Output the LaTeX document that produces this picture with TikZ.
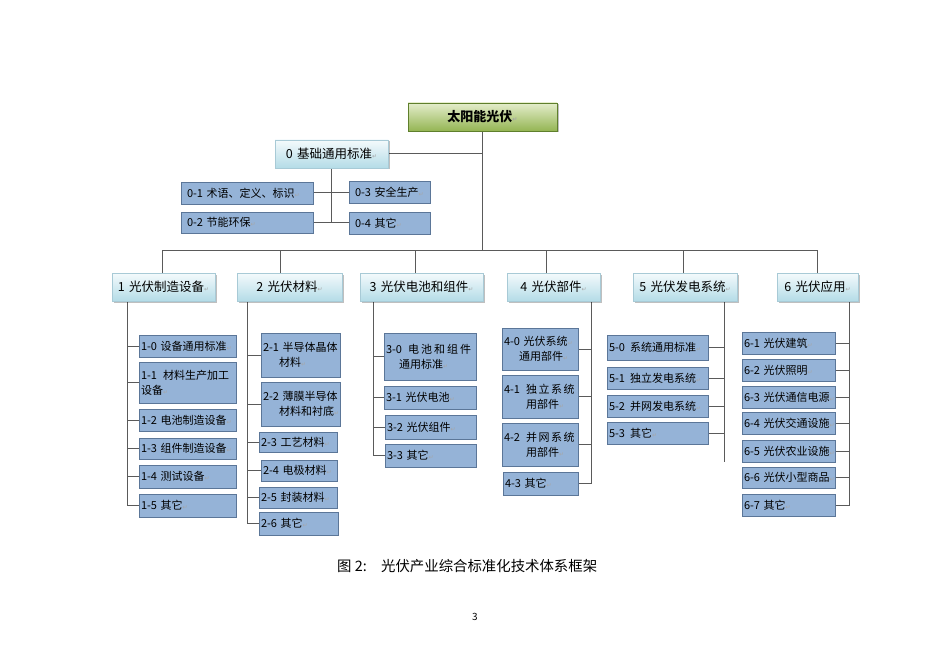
\documentclass[tikz,border=0pt]{standalone}
\usepackage{fontspec}
\setmainfont{Noto Sans CJK SC}
\newfontfamily\arwfont{DejaVu Sans}
\usetikzlibrary{shadows,backgrounds}
\definecolor{linegray}{HTML}{5A5A5A}
\definecolor{childfill}{HTML}{95B3D7}
\definecolor{childdraw}{HTML}{5B7698}
\definecolor{headtop}{HTML}{F4FAFC}
\definecolor{headbot}{HTML}{B4DCE7}
\definecolor{headdraw}{HTML}{A8CAD6}
\definecolor{titletop}{HTML}{E4EDCB}
\definecolor{titlebot}{HTML}{94B553}
\definecolor{titledraw}{HTML}{5F7F2C}
\newcommand\rt{{\arwfont\fontsize{6}{6}\selectfont\color{black!35}↵}}
\newcommand\cboxm[7]{%
  \pgfmathsetmacro\mybw{#5-#3}%
  \pgfmathsetmacro\mybh{#6-#4}%
  \pgfmathsetmacro\mycx{(#3+#5)/2}%
  \pgfmathsetmacro\mycy{(#4+#6)/2}%
  \pgfmathsetmacro\mytw{#5-#3-4}%
  \node[#1, minimum width=\mybw pt, minimum height=\mybh pt, text width=\mytw pt] (#2) at (\mycx,\mycy) {#7};}
\newcommand\cbox[7]{\cboxm{#1}{#2}{#3}{#4}{#5}{#6}{\mbox{#7}}}
\tikzset{
  childbox/.style={draw=childdraw, fill=childfill, line width=0.9pt, inner xsep=2pt, inner ysep=0pt,
    align=left, font=\fontsize{11}{15}\selectfont},
  zerobox/.style={childbox, execute at begin node={\hspace*{4pt}}},
  headbox/.style={draw=headdraw, top color=headtop, bottom color=headbot, line width=0.6pt,
    inner xsep=2pt, inner ysep=0pt, align=center, font=\fontsize{12.5}{14}\selectfont,
    drop shadow={shadow xshift=1.5pt, shadow yshift=-1.5pt, opacity=0.25, fill=black}},
  titlebox/.style={draw=titledraw, top color=titletop, bottom color=titlebot, line width=0.8pt,
    inner xsep=2pt, inner ysep=0pt, align=center, font=\fontsize{13}{15}\selectfont\bfseries,
    drop shadow={shadow xshift=1.5pt, shadow yshift=-1.5pt, opacity=0.25, fill=black}},
  conn/.style={draw=linegray, line width=1pt, line cap=rect, line join=miter}
}
\begin{document}
\begin{tikzpicture}[x=1pt,y=-1pt]
\useasboundingbox (0,0) rectangle (950,671);
% top and 0 group
\cbox{titlebox}{top}{408}{103}{557}{131}{太阳能光伏\rt}
\cbox{headbox}{h0}{275}{140}{388}{168}{0~基础通用标准\rt}
\cbox{zerobox}{c01}{181}{182}{313}{204}{0-1~术语、定义、标识\rt}
\cbox{zerobox}{c02}{181}{212}{313}{233}{0-2~节能环保\rt}
\cbox{zerobox}{c03}{349}{181}{430}{203}{0-3~安全生产\rt}
\cbox{zerobox}{c04}{349}{212}{430}{234}{0-4~其它\rt}
% headers
\cbox{headbox}{h1}{112}{273}{215}{301}{1~光伏制造设备\rt}
\cbox{headbox}{h2}{237}{273}{342}{301}{2~光伏材料\rt}
\cbox{headbox}{h3}{360}{273}{483}{301}{3~光伏电池和组件\rt}
\cbox{headbox}{h4}{507}{273}{600}{301}{4~光伏部件\rt}
\cbox{headbox}{h5}{633}{273}{737}{301}{5~光伏发电系统\rt}
\cbox{headbox}{h6}{777}{273}{858}{301}{6~光伏应用\rt}
% column 1
\cbox{childbox}{c10}{139}{335}{236}{357}{1-0~设备通用标准\rt}
\cboxm{childbox}{c11}{139}{362}{236}{403}{\mbox{1-1\hspace{6pt}材料生产加工}\\设备\rt}
\cbox{childbox}{c12}{139}{409}{236}{431}{1-2~电池制造设备\rt}
\cbox{childbox}{c13}{139}{438}{236}{459}{1-3~组件制造设备\rt}
\cbox{childbox}{c14}{139}{465}{236}{488}{1-4~测试设备\rt}
\cbox{childbox}{c15}{139}{494}{236}{517}{1-5~其它\rt}
% column 2
\cboxm{childbox}{c21}{261}{333}{340}{377}{\mbox{2-1~半导体晶体}\\\hspace*{16pt}材料\rt}
\cboxm{childbox}{c22}{261}{382}{340}{426}{\mbox{2-2~薄膜半导体}\\\hspace*{16pt}材料和衬底\rt}
\cbox{childbox}{c23}{259}{432}{337}{452}{2-3~工艺材料\rt}
\cbox{childbox}{c24}{261}{460}{337}{481}{2-4~电极材料\rt}
\cbox{childbox}{c25}{259}{487}{337}{508}{2-5~封装材料\rt}
\cbox{childbox}{c26}{259}{512}{338}{535}{2-6~其它\rt}
% column 3
\cboxm{childbox}{c30}{384}{333}{476}{380}{\mbox{3-0\hspace{6pt}电\hspace{2pt}池\hspace{2pt}和\hspace{2pt}组\hspace{2pt}件}\\\hspace*{13pt}通用标准\rt}
\cbox{childbox}{c31}{384}{386}{476}{409}{3-1~光伏电池\rt}
\cbox{childbox}{c32}{385}{415}{476}{439}{3-2~光伏组件\rt}
\cbox{childbox}{c33}{385}{444}{476}{467}{3-3~其它\rt}
% column 4
\cboxm{childbox}{c40}{502}{328}{578}{370}{\mbox{4-0~光伏系统\rt}\\\hspace*{15pt}通用部件\rt}
\cboxm{childbox}{c41}{502}{375}{578}{418}{\mbox{4-1\hspace{6pt}独\hspace{1.5pt}立\hspace{1.5pt}系\hspace{1.5pt}统}\\\hspace*{22pt}用部件\rt}
\cboxm{childbox}{c42}{502}{423}{578}{466}{\mbox{4-2\hspace{6pt}并\hspace{1.5pt}网\hspace{1.5pt}系\hspace{1.5pt}统}\\\hspace*{22pt}用部件\rt}
\cbox{childbox}{c43}{503}{472}{578}{495}{4-3~其它\rt}
% column 5
\cbox{childbox}{c50}{607}{335}{708}{360}{5-0\hspace{5pt}系统通用标准\rt}
\cbox{childbox}{c51}{607}{367}{708}{389}{5-1\hspace{5pt}独立发电系统\rt}
\cbox{childbox}{c52}{607}{395}{708}{417}{5-2\hspace{5pt}并网发电系统\rt}
\cbox{childbox}{c53}{607}{422}{708}{444}{5-3\hspace{5pt}其它\rt}
% column 6
\cbox{childbox}{c61}{742}{332}{835}{354}{6-1~光伏建筑\rt}
\cbox{childbox}{c62}{742}{359}{835}{381}{6-2~光伏照明\rt}
\cbox{childbox}{c63}{742}{386}{835}{408}{6-3~光伏通信电源\rt}
\cbox{childbox}{c64}{742}{412}{835}{434}{6-4~光伏交通设施\rt}
\cbox{childbox}{c65}{742}{440}{835}{462}{6-5~光伏农业设施\rt}
\cbox{childbox}{c66}{742}{467}{835}{488}{6-6~光伏小型商品\rt}
\cbox{childbox}{c67}{742}{494}{835}{516}{6-7~其它\rt}
% caption and page number
\node[font=\fontsize{14.4}{16}\selectfont, inner sep=0pt, anchor=west] (cap) at (337,566) {\makebox[44pt][l]{图 2:}光伏产业综合标准化技术体系框架};
\node[font=\fontsize{10}{12}\selectfont, inner sep=0pt] (pg) at (475,617) {3};
% coordinates
\coordinate (bus) at (0,250);
\coordinate (d1) at (162,0);
\coordinate (d2) at (280,0);
\coordinate (d3) at (415,0);
\coordinate (d4) at (546,0);
\coordinate (d5) at (683,0);
\coordinate (d6) at (817,0);
\coordinate (v0) at (331,0);
\coordinate (v1) at (127,0);
\coordinate (v2) at (247.5,0);
\coordinate (v3) at (373,0);
\coordinate (v4) at (591,0);
\coordinate (v5) at (724,0);
\coordinate (v6) at (849,0);
\coordinate (e5) at (724,461);
\begin{pgfonlayer}{background}
\fill[white] (0,0) rectangle (950,671);
\draw[conn] (top.south) -- (top.south |- bus);
\draw[conn] (h0.east) -- (h0.east -| top.south);
\draw[conn] (bus -| d1) -- (bus -| d6);
\foreach \i in {1,...,6} { \draw[conn] (bus -| d\i) -- (h\i.north -| d\i); }
% group 0
\draw[conn] (h0.south -| v0) -- (c02.east -| v0);
\draw[conn] (c01.east) -- (c01.east -| c03.west);
\draw[conn] (c02.east) -- (c02.east -| c04.west);
% column 1
\draw[conn] (h1.south -| v1) -- (c15.west -| v1) -- (c15.west);
\foreach \n in {c10,c11,c12,c13,c14} { \draw[conn] (\n.west -| v1) -- (\n.west); }
% column 2
\draw[conn] (h2.south -| v2) -- (c26.west -| v2) -- (c26.west);
\foreach \n in {c21,c22,c23,c24,c25} { \draw[conn] (\n.west -| v2) -- (\n.west); }
% column 3
\draw[conn] (h3.south -| v3) -- (c33.west -| v3) -- (c33.west);
\foreach \n in {c30,c31,c32} { \draw[conn] (\n.west -| v3) -- (\n.west); }
% column 4
\draw[conn] (h4.south -| v4) -- (c43.east -| v4) -- (c43.east);
\foreach \n in {c40,c41,c42} { \draw[conn] (\n.east -| v4) -- (\n.east); }
% column 5
\draw[conn] (h5.south -| v5) -- (e5);
\foreach \n in {c50,c51,c52,c53} { \draw[conn] (\n.east -| v5) -- (\n.east); }
% column 6
\draw[conn] (h6.south -| v6) -- (c67.east -| v6) -- (c67.east);
\foreach \n in {c61,c62,c63,c64,c65,c66} { \draw[conn] (\n.east -| v6) -- (\n.east); }
\end{pgfonlayer}
\end{tikzpicture}
\end{document}
